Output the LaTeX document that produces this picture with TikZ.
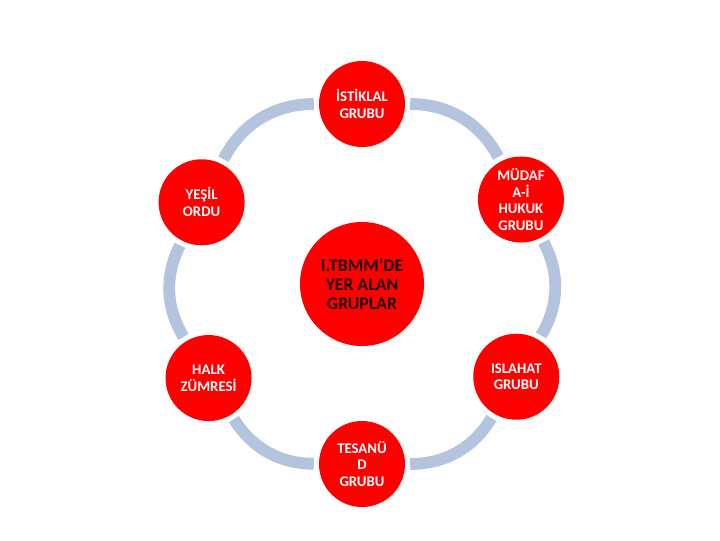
\documentclass[tikz,border=0pt]{standalone}
\usepackage{fontspec}
\setmainfont{Carlito}
\usetikzlibrary{backgrounds}
\definecolor{ringblue}{RGB}{180,195,222}
\definecolor{grpred}{RGB}{255,0,0}
\definecolor{darktext}{RGB}{30,0,0}
\tikzset{
  grp/.style={circle, fill=grpred, text=white, minimum size=2.15cm, inner sep=0pt,
    align=center, font=\fontsize{10.5}{12}\selectfont\bfseries},
  ring/.style={draw=ringblue, line width=8.4pt, shorten >=3.5pt, shorten <=3.5pt}
}
\begin{document}
\begin{tikzpicture}[x=0.025cm, y=0.025cm]
\useasboundingbox (-362,-256) rectangle (358,284);
\node[grp, minimum size=3.1cm, text=darktext, font=\fontsize{12.6}{13.4}\selectfont\bfseries]
  (merkez) at (0,0) {I.TBMM’DE\\YER ALAN\\GRUPLAR};
\foreach \ang/\nm/\lbl in {90/istiklal/{İSTİKLAL\\GRUBU}, 28/mudafaa/{MÜDAF\\A-İ\\HUKUK\\GRUBU},
    -31/islahat/{ISLAHAT\\GRUBU}, -90/tesanud/{TESANÜ\\D\\GRUBU},
    211.5/halk/{HALK\\ZÜMRESİ}, 153/yesil/{YEŞİL\\ORDU}}
  \node[grp] (\nm) at (\ang:180) {\lbl};
\begin{scope}[on background layer]
\foreach \a/\b/\bend in {istiklal/mudafaa/31, mudafaa/islahat/29.5, islahat/tesanud/29.5,
    tesanud/halk/29, halk/yesil/29, yesil/istiklal/31.5}
  \draw[ring] (\a) to[bend left=\bend] (\b);
\end{scope}
\end{tikzpicture}
\end{document}
